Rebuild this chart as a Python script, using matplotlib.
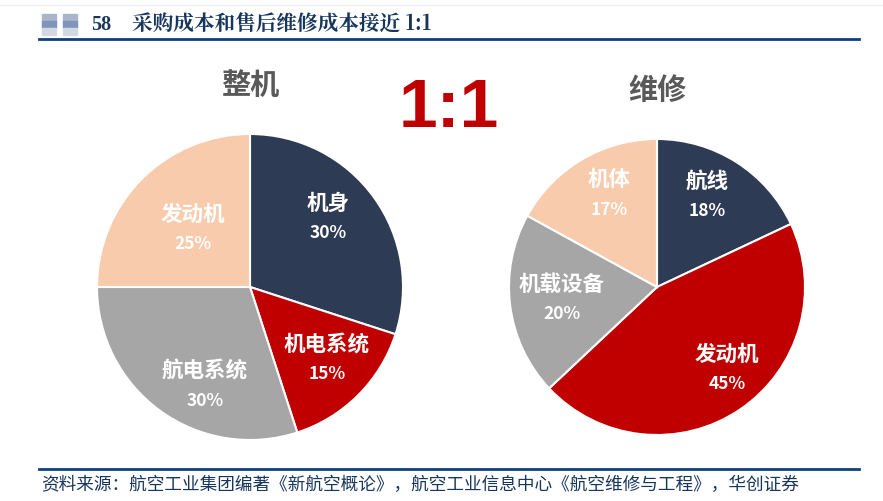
import matplotlib
matplotlib.use("Agg")
import matplotlib.pyplot as plt
from matplotlib.patches import Rectangle

plt.rcParams['font.family'] = ['Noto Sans CJK SC', 'DejaVu Sans']

fig_no = "58"
title = "采购成本和售后维修成本接近 1:1"
source = "资料来源：航空工业集团编著《新航空概论》，航空工业信息中心《航空维修与工程》，华创证券"

# 整机
left_labels = ["机身", "机电系统", "航电系统", "发动机"]
left_values = [30, 15, 30, 25]
left_colors = ["#2e3b55", "#c00000", "#a6a6a6", "#f8cbad"]

# 维修
right_labels = ["航线", "发动机", "机载设备", "机体"]
right_values = [18, 45, 20, 17]
right_colors = ["#2e3b55", "#c00000", "#a6a6a6", "#f8cbad"]

# label centres in pixels
left_pos = [(328, 203), (327, 344), (205, 371), (193, 214)]
right_pos = [(707, 181), (727, 354), (562, 284), (609, 180)]

W, H = 883, 501
fig = plt.figure(figsize=(W / 100, H / 100), dpi=100)


def fx(x):
    return x / W


def fy(y):
    return 1 - y / H


def px_axes(cx, cy, r):
    return fig.add_axes([fx(cx - r), fy(cy + r), 2 * r / W, 2 * r / H])


def draw_pie(ax, labels, values, colors, pos):
    ax.pie(values, colors=colors, startangle=90, counterclock=False, radius=1,
           wedgeprops=dict(edgecolor="white", linewidth=1.5))
    ax.set_xlim(-1, 1)
    ax.set_ylim(-1, 1)
    for lab, val, (x, y) in zip(labels, values, pos):
        fig.text(fx(x), fy(y), lab, color="white", ha="center", va="center",
                 fontsize=15.5, fontweight="bold")
        fig.text(fx(x), fy(y + 30), f"{val}%", color="white", ha="center", va="center",
                 fontsize=12.5, fontweight="bold")


draw_pie(px_axes(250, 287, 153), left_labels, left_values, left_colors, left_pos)
draw_pie(px_axes(657, 287, 148), right_labels, right_values, right_colors, right_pos)

fig.text(fx(250), fy(85), "整机", fontsize=21, fontweight="bold", color="#595959", ha="center", va="center")
fig.text(fx(658), fy(90), "维修", fontsize=21, fontweight="bold", color="#595959", ha="center", va="center")
fig.text(fx(449), fy(109), "1:1", fontsize=50, fontweight="bold", color="#c00000", ha="center", va="center",
         family=["Liberation Sans"])

# 页眉
fig.add_artist(plt.Line2D([0, 1], [fy(5), fy(5)], color="#eeeeee", lw=1))
for x0, w0 in [(42, 14), (63, 14)]:
    fig.add_artist(Rectangle((fx(x0), fy(21)), w0 / W, 7 / H, color="#a9b5ca", transform=fig.transFigure))
    fig.add_artist(Rectangle((fx(x0), fy(28)), w0 / W, 7 / H, color="#7f95ba", transform=fig.transFigure))
    fig.add_artist(Rectangle((fx(x0), fy(35)), w0 / W, 7 / H, color="#d3d9e3", transform=fig.transFigure))
serif = ["Noto Serif CJK SC", "Liberation Serif", "Noto Sans CJK SC"]
fig.text(fx(91), fy(25), fig_no, fontsize=14.5, fontweight="bold", color="#17365d", ha="left", va="center",
         family=["Liberation Serif"])
fig.text(fx(132), fy(25), title, fontsize=14.9, fontweight="bold", color="#17365d", ha="left", va="center",
         family=serif)
fig.add_artist(plt.Line2D([fx(39), fx(859)], [fy(38.5), fy(38.5)], color="#0f3f7f", lw=2))
fig.add_artist(plt.Line2D([fx(39), fx(859)], [fy(468.5), fy(468.5)], color="#0f3f7f", lw=2))
fig.text(fx(41), fy(485), source, fontsize=12.7, color="#17365d", ha="left", va="center")

fig.savefig("out.png", dpi=100)
